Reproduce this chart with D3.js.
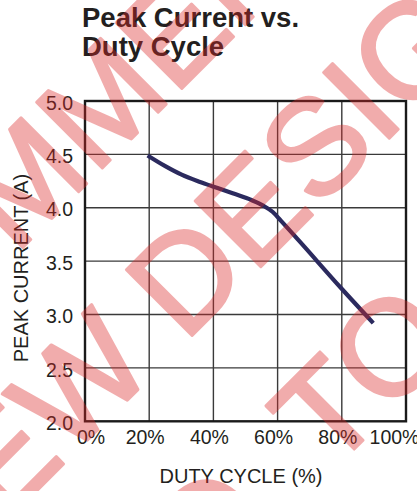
<!DOCTYPE html>
<html>
<head>
<meta charset="utf-8">
<script src="https://cdn.jsdelivr.net/npm/d3@7"></script>
<style>
  html, body { margin: 0; padding: 0; background: #fff; }
  svg { display: block; }
</style>
</head>
<body>
<svg id="chart" width="417" height="491"></svg>
<script>
// ---- data ----
const titleLines = ["Peak Current vs.", "Duty Cycle"];
const xTicks = [0, 20, 40, 60, 80, 100];
const xTickLabels = ["0%", "20%", "40%", "60%", "80%", "100%"];
const yTicks = [2.0, 2.5, 3.0, 3.5, 4.0, 4.5, 5.0];
const yTickLabels = ["2.0", "2.5", "3.0", "3.5", "4.0", "4.5", "5.0"];
const dutyCycle = [19.5, 25.0, 30.1, 35.0, 39.8, 46.0, 52.0, 55.5, 58.5, 61.0, 67.0, 79.4, 89.8];
const peakCurrent = [4.49, 4.39, 4.31, 4.25, 4.20, 4.135, 4.07, 4.02, 3.96, 3.88, 3.68, 3.26, 2.92];
const xTitle = "DUTY CYCLE (%)";
const yTitle = "PEAK CURRENT (A)";
const watermarkLines = ["NOT RECOMMENDED", "NEW DESIGNS", "GO TO"];

// ---- layout ----
const svg = d3.select("#chart");
const plot = { left: 85, right: 406, top: 101, bottom: 421.3 };
const ink = "#231f20";
const font = "'Liberation Sans', Arial, Helvetica, sans-serif";

const x = d3.scaleLinear().domain([0, 100]).range([plot.left, plot.right]);
const y = d3.scaleLinear().domain([2, 5]).range([plot.bottom, plot.top]);

// title
const title = svg.append("text")
  .attr("x", 82).attr("font-family", font).attr("font-weight", "bold")
  .attr("font-size", 27.5).attr("fill", ink);
titleLines.forEach((t, i) => {
  title.append("tspan").attr("x", 82).attr("y", 27 + i * 29).text(t);
});

// grid
const grid = svg.append("g");
grid.selectAll("line.gx").data(xTicks.slice(1, -1)).join("line")
  .attr("x1", d => x(d)).attr("x2", d => x(d))
  .attr("y1", plot.top).attr("y2", plot.bottom)
  .attr("stroke", "#3a3a3a").attr("stroke-width", 1.4);
grid.selectAll("line.gy").data(yTicks.slice(1, -1)).join("line")
  .attr("y1", d => y(d)).attr("y2", d => y(d))
  .attr("x1", plot.left).attr("x2", plot.right)
  .attr("stroke", "#3a3a3a").attr("stroke-width", 1.4);

// frame
svg.append("rect")
  .attr("x", plot.left).attr("y", plot.top)
  .attr("width", plot.right - plot.left).attr("height", plot.bottom - plot.top)
  .attr("fill", "none").attr("stroke", "#1a1a1a").attr("stroke-width", 2.4);

// axes (labels only)
const xAxis = d3.axisBottom(x).tickValues(xTicks)
  .tickFormat((d, i) => xTickLabels[i]).tickSize(0).tickPadding(0);
const gx = svg.append("g").attr("transform", `translate(0,${plot.bottom})`).call(xAxis);
gx.select(".domain").remove();
gx.selectAll("text")
  .attr("font-family", font).attr("font-size", 19.5).attr("fill", ink)
  .attr("dy", null).attr("y", 22.5)
  .attr("dx", (d, i) => i === 0 ? 5.5 : (i === xTicks.length - 1 ? -12 : -4.5));

const yAxis = d3.axisLeft(y).tickValues(yTicks)
  .tickFormat((d, i) => yTickLabels[i]).tickSize(0).tickPadding(0);
const gy = svg.append("g").attr("transform", `translate(${plot.left},0)`).call(yAxis);
gy.select(".domain").remove();
gy.selectAll("text")
  .attr("font-family", font).attr("font-size", 19.5).attr("fill", ink)
  .attr("x", -12).attr("dy", "0.42em");

// axis titles
svg.append("text")
  .attr("x", 241).attr("y", 483)
  .attr("text-anchor", "middle")
  .attr("font-family", font).attr("font-size", 20).attr("fill", ink)
  .text(xTitle);
svg.append("text")
  .attr("transform", "translate(28,268) rotate(-90)")
  .attr("text-anchor", "middle")
  .attr("font-family", font).attr("font-size", 20).attr("fill", ink)
  .text(yTitle);

// curve
const pts = dutyCycle.map((d, i) => [d, peakCurrent[i]]);
const line = d3.line().x(d => x(d[0])).y(d => y(d[1])).curve(d3.curveMonotoneX);
svg.append("path")
  .attr("d", line(pts))
  .attr("fill", "none").attr("stroke", "#2b2a5e").attr("stroke-width", 4.2)
  .attr("stroke-linejoin", "round");

// watermark
const wm = svg.append("g").attr("opacity", 0.38)
  .attr("transform", "rotate(-45)");
const wmPos = [{ t: -880, s: 191, ws: 0 }, { t: -465, s: 373, ws: 0 }, { t: -385, s: 568, ws: 38 }];
watermarkLines.forEach((txt, i) => {
  wm.append("text")
    .attr("x", wmPos[i].t).attr("y", wmPos[i].s)
    .attr("font-family", font).attr("font-size", 135)
    .attr("word-spacing", wmPos[i].ws)
    .attr("fill", "#dc2828").attr("stroke", "#dc2828").attr("stroke-width", 3)
    .attr("stroke-linejoin", "round")
    .text(txt);
});
</script>
</body>
</html>
